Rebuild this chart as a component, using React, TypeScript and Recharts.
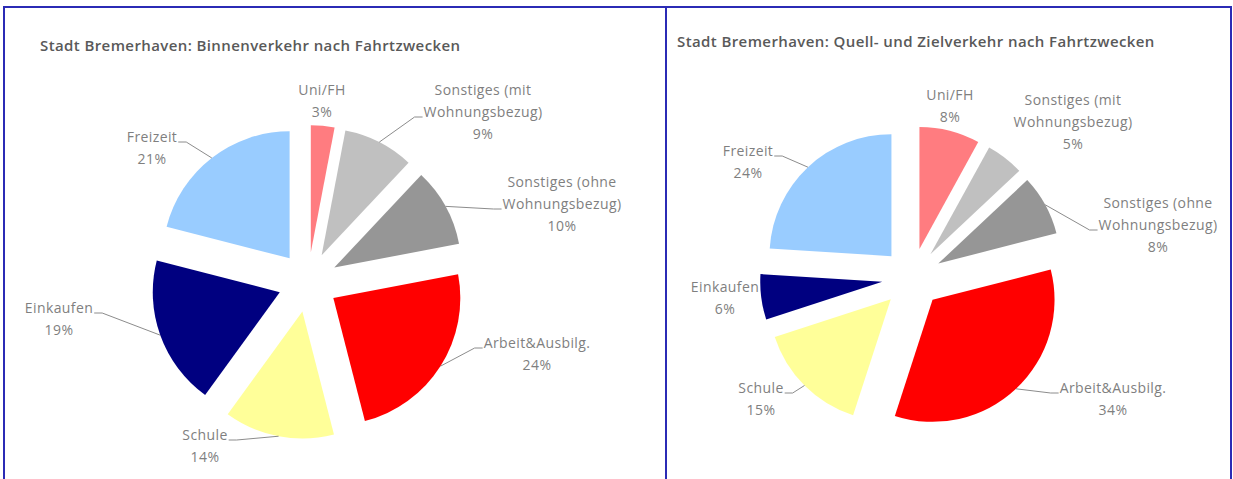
import { Pie, PieChart, Sector, Cell } from "recharts";

const categories = [
  "Uni/FH",
  "Sonstiges (mit Wohnungsbezug)",
  "Sonstiges (ohne Wohnungsbezug)",
  "Arbeit&Ausbilg.",
  "Schule",
  "Einkaufen",
  "Freizeit",
];
const binnenShares = [3, 9, 10, 24, 14, 19, 21];
const quellZielShares = [8, 5, 8, 34, 15, 6, 24];
const sliceColors = ["#ff7c80", "#c0c0c0", "#969696", "#ff0000", "#ffff99", "#000080", "#99ccff"];

const binnenTitle = "Stadt Bremerhaven: Binnenverkehr nach Fahrtzwecken";
const quellZielTitle = "Stadt Bremerhaven: Quell- und Zielverkehr nach Fahrtzwecken";

// label placement: first text line centre relative to pie centre, and whether a leader line is drawn
const binnenLabels: Array<[number, number, boolean]> = [
  [14, -193, false],
  [175, -193, true],
  [254, -101, true],
  [229, 60, true],
  [-103, 152, true],
  [-249, 25, true],
  [-156, -146, true],
];
const quellZielLabels: Array<[number, number, boolean]> = [
  [38, -184, false],
  [161, -179, false],
  [246, -76, true],
  [201, 109, true],
  [-151, 109, true],
  [-187, 8, false],
  [-164, -128, true],
];

const EXPLODE = 30;
const RADIAN = Math.PI / 180;
const LABEL_FONT = "14px 'Open Sans'";
const LABEL_COLOR = "#7f7f7f";
const LINE_H = 22;

const toRows = (shares: number[]) => categories.map((name, i) => ({ name, value: shares[i] }));

let ctx: CanvasRenderingContext2D | null = null;
function textWidth(s: string) {
  if (!ctx) ctx = document.createElement("canvas").getContext("2d");
  if (!ctx) return s.length * 7.5;
  ctx.font = LABEL_FONT;
  return ctx.measureText(s).width + s.length * 0.4;
}

function splitName(name: string) {
  if (name.length <= 15 || name.indexOf(" ") < 0) return [name];
  const cut = name.lastIndexOf(" ");
  return [name.slice(0, cut), name.slice(cut + 1)];
}

function ExplodedSector(props: any) {
  const { cx, cy, midAngle } = props;
  const a = -midAngle * RADIAN;
  return <Sector {...props} cx={cx + EXPLODE * Math.cos(a)} cy={cy + EXPLODE * Math.sin(a)} />;
}

function makeLabel(layout: Array<[number, number, boolean]>) {
  return (props: any) => {
    const { cx, cy, midAngle, outerRadius, index, value } = props;
    const [dx, dy, leader] = layout[index];
    const nameLines = splitName(categories[index]);
    const lines = [...nameLines, `${value}%`];
    const x = cx + dx;
    const y0 = cy + dy;
    let line = null;
    if (leader) {
      const li = nameLines.length - 1;
      const w = textWidth(nameLines[li]);
      const side = dx > 0 ? -1 : 1;
      const ax = x + side * (w / 2 + 1);
      const ay = y0 + li * LINE_H + 6;
      const a = -midAngle * RADIAN;
      const px = cx + (EXPLODE + outerRadius) * Math.cos(a);
      const py = cy + (EXPLODE + outerRadius) * Math.sin(a);
      line = (
        <polyline
          points={`${ax},${ay} ${ax + side * 8},${ay} ${px},${py}`}
          fill="none"
          stroke="#8c8c8c"
          strokeWidth={1}
        />
      );
    }
    return (
      <g>
        {line}
        {lines.map((t, i) => (
          <text
            key={i}
            x={x}
            y={y0 + i * LINE_H}
            textAnchor="middle"
            dominantBaseline="central"
            fill={LABEL_COLOR}
            style={{ font: LABEL_FONT, letterSpacing: "0.4px" }}
          >
            {t}
          </text>
        ))}
      </g>
    );
  };
}

const border = "#2b2bb5";
const titleStyle = {
  position: "absolute" as const,
  fontSize: 15,
  fontWeight: 600,
  letterSpacing: "0.4px",
  color: "#595959",
  whiteSpace: "nowrap" as const,
};

export default function App() {
  return (
    <div style={{ position: "absolute", left: 0, top: 0, width: 1233, height: 479, background: "#fff", overflow: "hidden", fontFamily: "'Open Sans', sans-serif" }}>
      <div style={{ position: "absolute", left: 3, top: 6, width: 1228, height: 2, background: border }} />
      <div style={{ position: "absolute", left: 3, top: 6, width: 2, height: 473, background: border }} />
      <div style={{ position: "absolute", left: 665, top: 6, width: 2, height: 473, background: border }} />
      <div style={{ position: "absolute", left: 1230, top: 6, width: 2, height: 473, background: border }} />
      <div style={{ ...titleStyle, left: 40, top: 35 }}>{binnenTitle}</div>
      <div style={{ ...titleStyle, left: 677, top: 31 }}>{quellZielTitle}</div>
      <div style={{ position: "absolute", left: 0, top: 0 }}>
        <PieChart width={1233} height={479}>
          <Pie
            data={toRows(binnenShares)}
            dataKey="value"
            nameKey="name"
            cx={303}
            cy={277}
            outerRadius={127}
            startAngle={90}
            endAngle={-270}
            stroke="none"
            shape={ExplodedSector}
            label={makeLabel(binnenLabels)}
            labelLine={false}
            isAnimationActive={false}
          >
            {sliceColors.map((c, i) => (
              <Cell key={`b-${i}`} fill={c} />
            ))}
          </Pie>
          <Pie
            data={toRows(quellZielShares)}
            dataKey="value"
            nameKey="name"
            cx={907}
            cy={273}
            outerRadius={122}
            startAngle={90}
            endAngle={-270}
            stroke="none"
            shape={ExplodedSector}
            label={makeLabel(quellZielLabels)}
            labelLine={false}
            isAnimationActive={false}
          >
            {sliceColors.map((c, i) => (
              <Cell key={`q-${i}`} fill={c} />
            ))}
          </Pie>
        </PieChart>
      </div>
    </div>
  );
}
